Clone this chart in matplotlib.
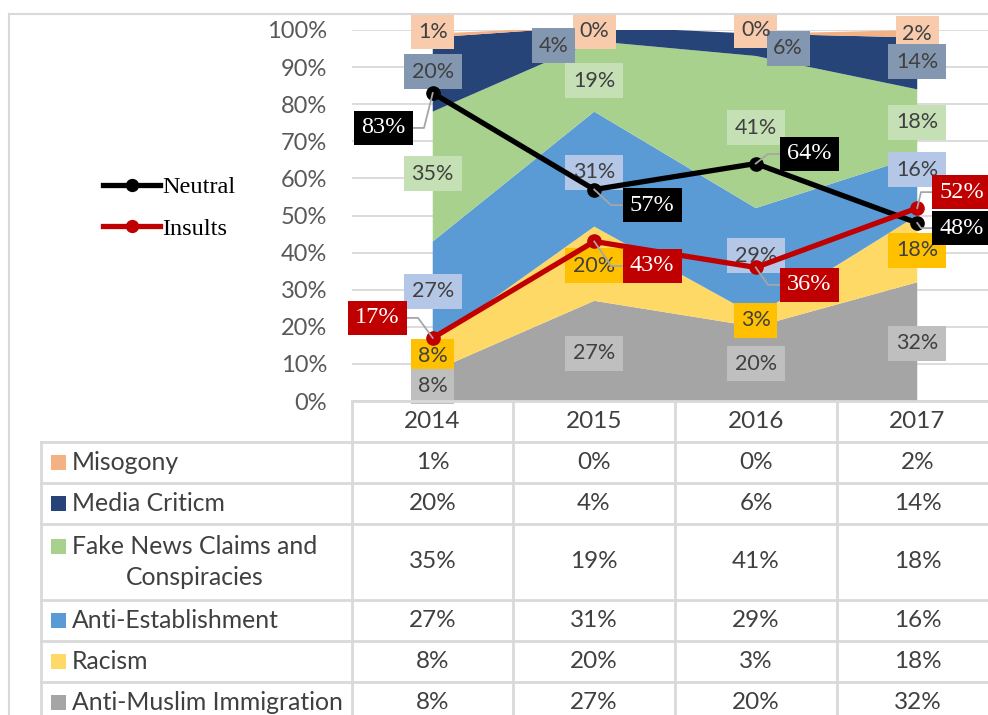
import numpy as np
import matplotlib.pyplot as plt
from matplotlib.patches import Rectangle
from matplotlib.transforms import IdentityTransform

plt.rcParams['font.family'] = ['Lato', 'DejaVu Sans']

# ---- data ----
years = ['2014', '2015', '2016', '2017']
series = ['Misogony', 'Media Criticm', 'Fake News Claims and\nConspiracies',
          'Anti-Establishment', 'Racism', 'Anti-Muslim Immigration']
misogony = [1, 0, 0, 2]
media = [20, 4, 6, 14]
fake_news = [35, 19, 41, 18]
anti_est = [27, 31, 29, 16]
racism = [8, 20, 3, 18]
anti_muslim = [8, 27, 20, 32]
neutral = [83, 57, 64, 48]
insults = [17, 43, 36, 52]

colors = ['#F4B183', '#264478', '#A9D18E', '#5B9BD5', '#FFD966', '#A5A5A5']
box_colors = ['#F8CBAD', '#8497B0', '#C5E0B4', '#B4C7E7', '#FFC000', '#BFBFBF']

# label placement (x offset in categories, y in axis units)
stack_lab_dx = [[0, 0, 0, 0], [0, -0.25, 0.2, 0], [0, 0, 0, 0],
                [0, 0, 0, 0], [0, 0, 0, 0], [0, 0, 0, 0]]
stack_lab_y = [[0.995, 0.997, 1.0, 0.99],
               [0.887, 0.957, 0.951, 0.914],
               [0.612, 0.863, 0.736, 0.752],
               [0.296, 0.617, 0.391, 0.623],
               [0.121, 0.364, 0.218, 0.407],
               [0.040, 0.129, 0.100, 0.156]]
neutral_lab = ([-0.308, 1.358, 2.33, 3.277], [0.736, 0.528, 0.666, 0.466])
insults_lab = ([-0.345, 1.358, 2.33, 3.277], [0.224, 0.364, 0.313, 0.563])

W, H = 988, 715
fig = plt.figure(figsize=(W / 100, H / 100), dpi=100)
ax = fig.add_axes([352 / W, 1 - 401 / H, 646 / W, 371 / H])

x = np.arange(len(years))
all_series = [misogony, media, fake_news, anti_est, racism, anti_muslim]
vals = np.array(all_series[::-1]) / 100  # bottom to top
ax.stackplot(x, vals, colors=colors[::-1], zorder=2)

ax.set_xlim(-0.5, 3.5)
ax.set_ylim(0, 1)
ax.set_yticks(np.arange(0, 1.01, 0.1))
ax.set_yticklabels([f'{int(round(t * 100))}%' for t in np.arange(0, 1.01, 0.1)])
ax.set_xticks([])
ax.yaxis.grid(True, color='#D9D9D9', lw=1.3)
ax.set_axisbelow(True)
for s in ax.spines.values():
    s.set_visible(False)
ax.tick_params(axis='y', length=0, pad=18, labelsize=17, labelcolor='#595959')

ln1, = ax.plot(x, np.array(neutral) / 100, color='black', lw=3.8, marker='o',
               ms=9.5, zorder=5, label='Neutral', clip_on=False)
ln2, = ax.plot(x, np.array(insults) / 100, color='#C00000', lw=3.8, marker='o',
               ms=9.5, zorder=5, label='Insults', clip_on=False)

ident = IdentityTransform()


def px(xd, yd):
    return ax.transData.transform((xd, yd))


def boxed(cx, cy, text, fc, tc, w, h, family, size, z):
    ax.add_patch(Rectangle((cx - w / 2, cy - h / 2), w, h, fc=fc, ec='none',
                           transform=ident, clip_on=False, zorder=z))
    ax.text(cx, cy, text, ha='center', va='center', color=tc, fontsize=size,
            family=family, transform=ident, zorder=z + 0.1)


# stacked-area labels
for k, ser in enumerate(all_series):
    for i, v in enumerate(ser):
        cx, cy = px(i + stack_lab_dx[k][i], stack_lab_y[k][i])
        t = f'{v}%'
        boxed(cx, cy, t, box_colors[k], '#404040', 13 + 15 * len(t), 35,
              ['Lato', 'DejaVu Sans'], 15.5, 3)

# line labels with leader lines
for vals_l, lab, fc in [(neutral, neutral_lab, 'black'), (insults, insults_lab, '#C00000')]:
    for i, v in enumerate(vals_l):
        mx, my = px(i, v / 100)
        lx, ly = px(lab[0][i], lab[1][i])
        side = 1 if lx > mx else -1
        edge = lx - side * 29
        elbow = edge - side * 12
        ax.plot([mx, elbow, edge], [my, ly, ly], color='#A6A6A6', lw=1.3,
                transform=ident, clip_on=False, zorder=6)
        boxed(lx, ly, f'{v}%', fc, 'white', 59, 34,
              ['Liberation Serif', 'DejaVu Serif'], 17.5, 7)

ax.legend(handles=[ln1, ln2], loc='center left', bbox_to_anchor=(103 / W, 1 - 208 / H),
          bbox_transform=fig.transFigure, frameon=False,
          prop={'family': 'Liberation Serif', 'size': 17.5}, handlelength=2.35,
          handletextpad=0.1, labelspacing=0.8, borderpad=0, borderaxespad=0,
          markerscale=0.9)

# ---- data table drawn in pixel coordinates ----
ov = fig.add_axes([0, 0, 1, 1])
ov.set_xlim(0, W)
ov.set_ylim(H, 0)
ov.axis('off')
gc = '#D9D9D9'

# chart border
ov.plot([9, W], [14, 14], color=gc, lw=1.5)
ov.plot([9, 9], [14, H], color=gc, lw=1.5)

row_edges = [442, 483, 524, 600, 641, 682, 730]
col_edges = [352, 513, 675, 837, 998]
ov.plot([352, W], [401, 401], color=gc, lw=2)
for r in row_edges[:-1]:
    ov.plot([41, W], [r, r], color=gc, lw=2)
ov.plot([41, 41], [442, H], color=gc, lw=2)
for c in col_edges[:-1]:
    ov.plot([c, c], [401, H], color=gc, lw=2)

col_cent = [(col_edges[j] + col_edges[j + 1]) / 2 for j in range(4)]
for j, yr in enumerate(years):
    ov.text(col_cent[j], 421, yr, ha='center', va='center', fontsize=17.5, color='#404040')

for k, name in enumerate(series):
    y0, y1 = row_edges[k], row_edges[k + 1]
    if k == len(series) - 1:
        y1 = 723
    rc = (y0 + y1) / 2
    sq_y = rc if '\n' not in name else y0 + 22
    ov.add_patch(Rectangle((51, sq_y - 7.5), 15, 15, fc=colors[k], ec='none'))
    ov.text(72, rc, name, ha='left', va='center', fontsize=17.8, color='#404040',
            multialignment='center', linespacing=1.45)
    for j, v in enumerate(all_series[k]):
        ov.text(col_cent[j], rc, f'{v}%', ha='center', va='center', fontsize=17.5,
                color='#404040')

fig.savefig('out.png', dpi=100)
